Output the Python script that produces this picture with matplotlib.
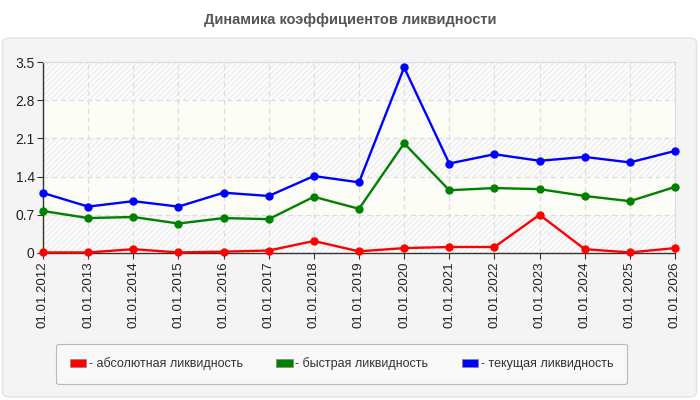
import matplotlib
matplotlib.use("Agg")
import matplotlib.pyplot as plt
from matplotlib.patches import FancyBboxPatch, Patch
import numpy as np

plt.rcParams['font.family'] = ['Liberation Sans', 'DejaVu Sans']

dates = ["01.01.2012", "01.01.2013", "01.01.2014", "01.01.2015", "01.01.2016",
         "01.01.2017", "01.01.2018", "01.01.2019", "01.01.2020", "01.01.2021",
         "01.01.2022", "01.01.2023", "01.01.2024", "01.01.2025", "01.01.2026"]
absolute = [0.01, 0.01, 0.07, 0.01, 0.025, 0.045, 0.22, 0.03, 0.09, 0.11, 0.11, 0.70, 0.07, 0.01, 0.09]
quick = [0.77, 0.64, 0.66, 0.54, 0.64, 0.62, 1.03, 0.81, 2.01, 1.15, 1.19, 1.17, 1.045, 0.95, 1.21]
current = [1.10, 0.85, 0.95, 0.85, 1.105, 1.045, 1.41, 1.295, 3.40, 1.64, 1.81, 1.69, 1.76, 1.66, 1.87]
series_names = ["- абсолютная ликвидность", "- быстрая ликвидность", "- текущая ликвидность"]
colors = ["#ff0000", "#008000", "#0000ff"]
yticks = [0, 0.7, 1.4, 2.1, 2.8, 3.5]
ytick_labels = ["0", "0.7", "1.4", "2.1", "2.8", "3.5"]
title = "Динамика коэффициентов ликвидности"

fig = plt.figure(figsize=(7, 4), dpi=100)
fig.patch.set_facecolor("white")

panel = FancyBboxPatch((2.5 / 700, 3 / 400), 694 / 700, 359 / 400,
                       boxstyle="round,pad=0,rounding_size=0.012",
                       transform=fig.transFigure, facecolor="#f4f4f4",
                       edgecolor="#e2e2e2", linewidth=1.0, zorder=-10)
fig.patches.append(panel)

fig.text(0.5, 1 - 20 / 400, title, ha="center", va="center",
         fontsize=10.5, fontweight="bold", color="#555555")

ax = fig.add_axes([43 / 700, 147 / 400, 632 / 700, 191 / 400])
ax.set_facecolor("#fdfdf9")
plt.rcParams['hatch.linewidth'] = 0.6
for i in range(len(yticks) - 1):
    if i % 2 == 0:
        ax.axhspan(yticks[i], yticks[i + 1], facecolor="#fcfcfc", edgecolor="#e6e6e6",
                   hatch="//////", linewidth=0, zorder=0)
    else:
        ax.axhspan(yticks[i], yticks[i + 1], facecolor="#fdfdf7", linewidth=0, zorder=0)

x = np.arange(len(dates))
for vals, c in zip([absolute, quick, current], colors):
    ax.plot(x, vals, color=c, lw=1.7, marker="o", markersize=5, zorder=3, clip_on=False)

ax.set_xlim(0, len(dates) - 1)
ax.set_ylim(0, 3.5)
ax.set_xticks(x)
ax.set_xticklabels(dates, rotation=90, fontsize=9.5, color="#222222")
ax.set_yticks(yticks)
ax.set_yticklabels(ytick_labels, fontsize=10, color="#222222")
ax.grid(True, color="#dddddd", linestyle=(0, (4, 3)), linewidth=0.9, zorder=1)
ax.set_axisbelow(True)
for s in ["top", "right"]:
    ax.spines[s].set_color("#dddddd")
for s in ["left", "bottom"]:
    ax.spines[s].set_color("#333333")
    ax.spines[s].set_linewidth(1.0)
ax.tick_params(axis="both", length=4, color="#333333", pad=2)

handles = [Patch(facecolor=c, edgecolor="#888888", linewidth=0.5) for c in colors]
leg = fig.legend(handles, series_names, ncol=3, loc="center",
                 bbox_to_anchor=(341.5 / 700, 1 - 364 / 400),
                 fontsize=9, frameon=True, fancybox=True,
                 handlelength=1.3, handleheight=0.7, handletextpad=0.2,
                 columnspacing=2.7, borderpad=1.1, labelcolor="#333333")
leg.get_frame().set_facecolor("#fafafa")
leg.get_frame().set_edgecolor("#aaaaaa")
leg.get_frame().set_linewidth(0.8)

fig.savefig("out.png", dpi=100)
